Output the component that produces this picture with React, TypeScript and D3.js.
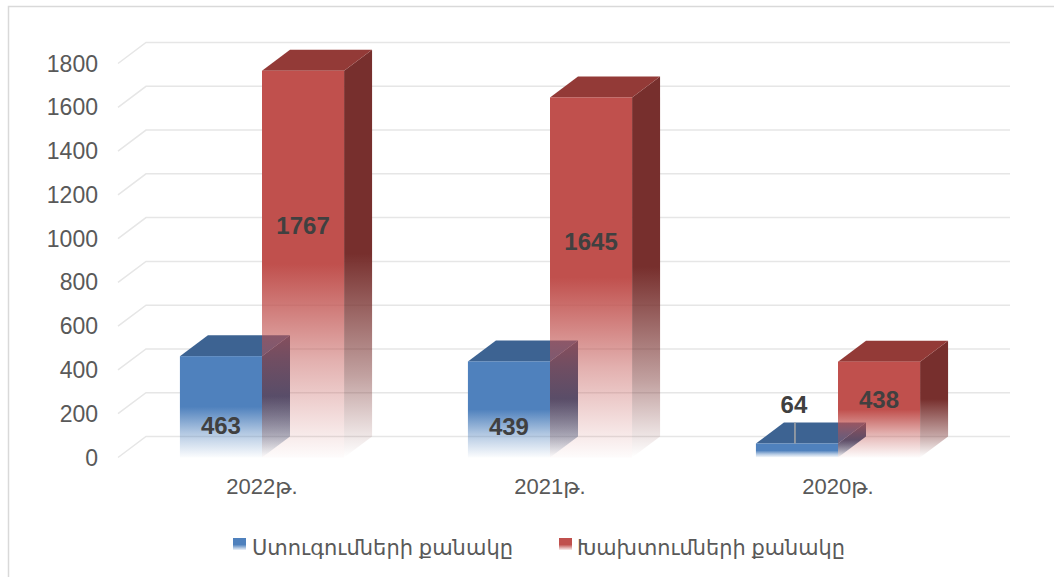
import React from "react";
import * as d3 from "d3";

const categories = ["2022թ.", "2021թ.", "2020թ."];
const inspections = [463, 439, 64];
const violations = [1767, 1645, 438];
const seriesNames = ["Ստուգումների քանակը", "Խախտումների քանակը"];
const yTicks = [0, 200, 400, 600, 800, 1000, 1200, 1400, 1600, 1800];

const W = 1054;
const H = 577;
const DX = 28;
const DY = -21;

const seriesStyle = [
  { key: "ins", front: "#4F81BD", top: "#3D6392", side: "#2E4C74", labelFactor: 0.32 },
  { key: "vio", front: "#C0504D", top: "#933A37", side: "#772F2D", labelFactor: 0.6 },
];

const font = "Arial, 'Liberation Sans', 'DejaVu Sans', sans-serif";

export default function App() {
  const y = d3.scaleLinear().domain([0, 1800]).range([457.5, 63.5]);
  const x0 = d3
    .scaleBand<string>()
    .domain(categories)
    .range([118, 982])
    .paddingInner(0.43)
    .paddingOuter(0.215);
  const x1 = d3
    .scaleBand<string>()
    .domain(seriesStyle.map((s) => s.key))
    .range([0, x0.bandwidth()]);
  const data = [inspections, violations];
  const y0 = y(0);
  const w = x1.bandwidth();

  const bars: React.ReactNode[] = [];
  const labels: React.ReactNode[] = [];
  categories.forEach((c, ci) => {
    seriesStyle.forEach((s, si) => {
      const v = data[si][ci];
      const x = (x0(c) as number) + (x1(s.key) as number);
      const yv = y(v);
      const topPts = [
        [x, yv],
        [x + DX, yv + DY],
        [x + w + DX, yv + DY],
        [x + w, yv],
      ];
      const sidePts = [
        [x + w, yv],
        [x + w + DX, yv + DY],
        [x + w + DX, y0 + DY],
        [x + w, y0],
      ];
      bars.push(
        <g key={`${c}-${s.key}`}>
          <polygon points={sidePts.map((p) => p.join(",")).join(" ")} fill={`url(#side-${s.key})`} />
          <polygon points={topPts.map((p) => p.join(",")).join(" ")} fill={s.top} />
          <rect x={x} y={yv} width={w} height={y0 - yv} fill={`url(#front-${s.key})`} />
        </g>
      );
      const cx = x + w / 2;
      const hpx = y0 - yv;
      if (hpx < 30) {
        const ly = yv + DY - 18;
        labels.push(
          <g key={`l-${c}-${s.key}`}>
            <line x1={cx - 2} x2={cx - 2} y1={yv + DY} y2={yv} stroke="#A6A6A6" strokeWidth={1.5} />
            <text x={cx - 3} y={ly} textAnchor="middle" dominantBaseline="central" fontFamily={font} fontWeight="bold" fontSize={24} fill="#404040">
              {v}
            </text>
          </g>
        );
      } else {
        labels.push(
          <text key={`l-${c}-${s.key}`} x={cx} y={y(v * s.labelFactor)} textAnchor="middle" dominantBaseline="central" fontFamily={font} fontWeight="bold" fontSize={24} fill="#404040">
            {v}
          </text>
        );
      }
    });
  });

  const legendX = [233, 559];
  const legendTextX = [252, 577];
  const legendTextLen = [261, 268];

  return (
    <svg width={W} height={H} style={{ position: "absolute", left: 0, top: 0, background: "#fff" }}>
      <defs>
        {seriesStyle.map((s) => (
          <React.Fragment key={s.key}>
            <linearGradient id={`front-${s.key}`} x1="0" y1="0" x2="0" y2="1">
              <stop offset="0" stopColor={s.front} stopOpacity={1} />
              <stop offset="0.5" stopColor={s.front} stopOpacity={1} />
              <stop offset="0.75" stopColor={s.front} stopOpacity={0.45} />
              <stop offset="1" stopColor={s.front} stopOpacity={0.02} />
            </linearGradient>
            <linearGradient id={`side-${s.key}`} x1="0" y1="0" x2="0" y2="1">
              <stop offset="0" stopColor={s.side} stopOpacity={1} />
              <stop offset="0.5" stopColor={s.side} stopOpacity={1} />
              <stop offset="0.8" stopColor={s.side} stopOpacity={0.45} />
              <stop offset="1" stopColor={s.side} stopOpacity={0} />
            </linearGradient>
            <linearGradient id={`leg-${s.key}`} x1="0" y1="0" x2="0" y2="1">
              <stop offset="0" stopColor={s.front} stopOpacity={1} />
              <stop offset="0.55" stopColor={s.front} stopOpacity={1} />
              <stop offset="1" stopColor={s.front} stopOpacity={0.1} />
            </linearGradient>
          </React.Fragment>
        ))}
      </defs>
      <rect x={8.5} y={6.5} width={1200} height={1200} fill="#fff" stroke="#D9D9D9" strokeWidth={1.5} />
      <g>
        {yTicks.map((t) => (
          <polyline
            key={t}
            points={`118,${y(t)} ${118 + DX},${y(t) + DY} ${982 + DX},${y(t) + DY}`}
            fill="none"
            stroke="#E6E6E6"
            strokeWidth={1.5}
          />
        ))}
      </g>
      <g>
        {yTicks.map((t) => (
          <text key={t} x={98} y={y(t)} textAnchor="end" dominantBaseline="central" fontFamily={font} fontSize={23} fill="#595959">
            {t}
          </text>
        ))}
      </g>
      {bars}
      {labels}
      <g>
        {categories.map((c) => (
          <text key={c} x={(x0(c) as number) + x0.bandwidth() / 2} y={494} textAnchor="middle" fontFamily={font} fontSize={22} fill="#595959">
            {c}
          </text>
        ))}
      </g>
      <g>
        {seriesStyle.map((s, i) => (
          <g key={s.key}>
            <rect x={legendX[i]} y={538} width={13} height={12} fill={`url(#leg-${s.key})`} />
            <text
              x={legendTextX[i]}
              y={555}
              fontFamily={font}
              fontSize={22}
              fill="#595959"
              textLength={legendTextLen[i]}
              lengthAdjust="spacingAndGlyphs"
            >
              {seriesNames[i]}
            </text>
          </g>
        ))}
      </g>
    </svg>
  );
}
